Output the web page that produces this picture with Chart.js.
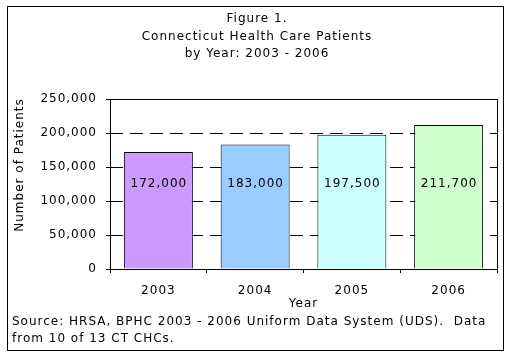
<!DOCTYPE html>
<html>
<head>
<meta charset="utf-8">
<script src="https://cdn.jsdelivr.net/npm/chart.js@4/dist/chart.umd.min.js"></script>
<style>
  html, body { margin: 0; padding: 0; background: #fff; }
  #wrap { width: 510px; height: 355px; }
</style>
</head>
<body>
<div id="wrap"><canvas id="c" width="510" height="355"></canvas></div>
<script>
const titleLines = ["Figure 1.", "Connecticut Health Care Patients", "by Year: 2003 - 2006"];
const categories = ["2003", "2004", "2005", "2006"];
const patients = [172000, 183000, 197500, 211700];
const barColors = ["#CC99FF", "#99CCFF", "#CCFFFF", "#CCFFCC"];
const yTitle = "Number of Patients";
const xTitle = "Year";
const sourceLines = ["Source: HRSA, BPHC 2003 - 2006 Uniform Data System (UDS).  Data", "from 10 of 13 CT CHCs."];
const yMin = 0, yMax = 250000, yStep = 50000;

const FONT = "DejaVu Sans, Verdana, sans-serif";
const SPACING = '1px';

const spacing = {
  id: 'spacing',
  beforeLayout(chart) { chart.ctx.letterSpacing = SPACING; },
  beforeDraw(chart) { chart.ctx.letterSpacing = SPACING; }
};

const decor = {
  id: 'decor',
  afterDraw(chart) {
    const ctx = chart.ctx;
    const a = chart.chartArea;
    ctx.save();
    ctx.letterSpacing = SPACING;
    // outer frame
    ctx.strokeStyle = '#000';
    ctx.lineWidth = 1;
    ctx.strokeRect(7.5, 6.5, 496, 344);
    // plot frame
    ctx.strokeRect(Math.round(a.left) + 0.5, Math.round(a.top) + 0.5, Math.round(a.right - a.left), Math.round(a.bottom - a.top));
    ctx.fillStyle = '#000';
    ctx.font = "12px " + FONT;
    ctx.textAlign = 'center';
    ctx.textBaseline = 'middle';
    const ty = [18.5, 36.5, 53.5];
    titleLines.forEach((t, i) => ctx.fillText(t, 257, ty[i]));
    // x title
    ctx.fillText(xTitle, (a.left + a.right) / 2, 304);
    // y title
    ctx.save();
    ctx.translate(20, 165);
    ctx.rotate(-Math.PI / 2);
    ctx.fillText(yTitle, 0, 0);
    ctx.restore();
    // source
    ctx.textAlign = 'left';
    ctx.fillText(sourceLines[0], 12, 321.5);
    ctx.fillText(sourceLines[1], 12, 339);
    // value labels
    ctx.textAlign = 'center';
    const meta = chart.getDatasetMeta(0);
    meta.data.forEach((bar, i) => {
      ctx.fillText(patients[i].toLocaleString('en-US'), bar.x + 0.5, 183.5);
    });
    ctx.restore();
  }
};

new Chart(document.getElementById('c'), {
  type: 'bar',
  data: {
    labels: categories,
    datasets: [{
      data: patients,
      backgroundColor: barColors,
      borderColor: '#000',
      borderWidth: 1,
      barPercentage: 0.713,
      categoryPercentage: 1.0
    }]
  },
  options: {
    responsive: false,
    animation: false,
    devicePixelRatio: 1,
    layout: { padding: { left: 0, top: 99, right: 13, bottom: 56 } },
    plugins: {
      legend: { display: false },
      title: { display: false },
      tooltip: { enabled: false }
    },
    scales: {
      x: {
        afterFit(scale) { scale.height = 30; },
        grid: { display: true, drawOnChartArea: false, drawTicks: true, tickLength: 4, offset: true, color: '#000' },
        border: { display: false },
        ticks: { color: '#000', font: { family: FONT, size: 12 }, padding: 11 }
      },
      y: {
        min: yMin, max: yMax,
        afterFit(scale) { scale.width = 110; },
        grid: { color: '#000', drawTicks: true, tickLength: 4, tickBorderDash: [] },
        border: { display: false, dash: [13, 7] },
        ticks: {
          stepSize: yStep,
          color: '#000',
          font: { family: FONT, size: 12 },
          padding: 9,
          callback: v => v.toLocaleString('en-US')
        }
      }
    }
  },
  plugins: [spacing, decor]
});
</script>
</body>
</html>
